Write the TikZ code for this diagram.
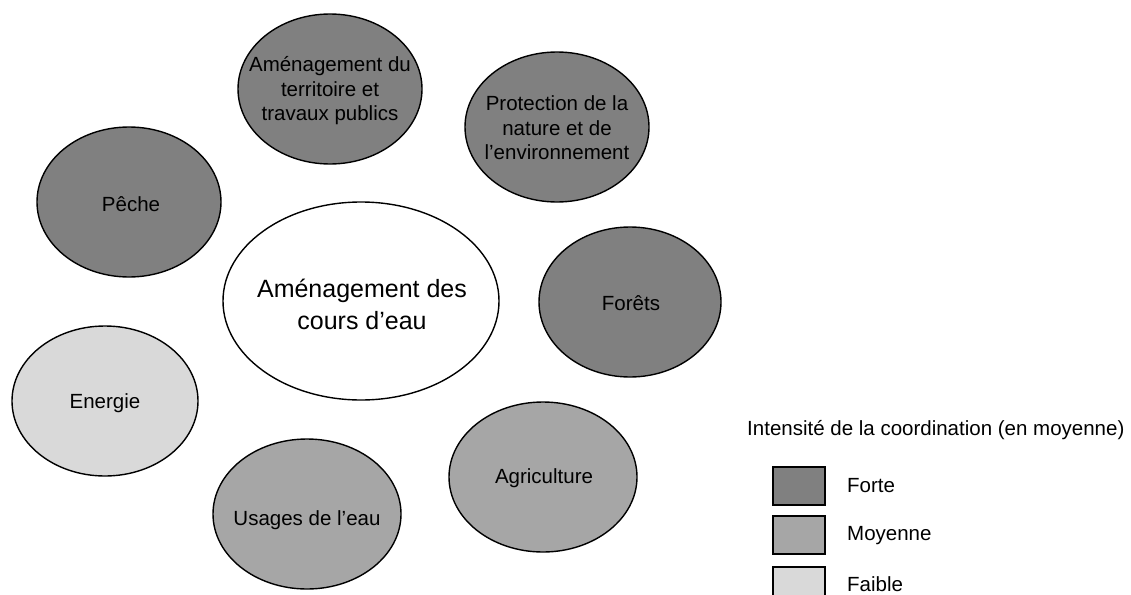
\documentclass[tikz,border=0pt]{standalone}
\usepackage{fontspec}
\setmainfont{Liberation Sans}
\definecolor{forte}{HTML}{808080}
\definecolor{moyenne}{HTML}{A6A6A6}
\definecolor{faible}{HTML}{D9D9D9}
\tikzset{
  bub/.style={draw=black, line width=1.4pt},
  lab/.style={align=center, inner sep=0pt, font=\fontsize{20.5}{24.5}\selectfont},
  biglab/.style={align=center, inner sep=0pt, font=\fontsize{25}{32}\selectfont},
  legtxt/.style={anchor=west, inner sep=0pt, font=\fontsize{20.5}{25}\selectfont},
  legbox/.style={draw=black, line width=1.2pt, minimum width=52pt, minimum height=38pt, inner sep=0pt}
}
\begin{document}
\begin{tikzpicture}[x=1pt, y=-1pt]
\useasboundingbox (0,0) rectangle (1131,594);
\clip (0,0) rectangle (1131,594);
% ellipses
\draw[bub, fill=forte]   (330,89)  ellipse [x radius=92pt, y radius=75pt];
\draw[bub, fill=forte]   (557,127) ellipse [x radius=92pt, y radius=75pt];
\draw[bub, fill=forte]   (129,202) ellipse [x radius=92pt, y radius=75pt];
\draw[bub, fill=white]   (361,301) ellipse [x radius=138pt, y radius=99pt];
\draw[bub, fill=forte]   (630,302) ellipse [x radius=91pt, y radius=75pt];
\draw[bub, fill=faible]  (105,401) ellipse [x radius=93pt, y radius=75pt];
\draw[bub, fill=moyenne] (543,477) ellipse [x radius=94pt, y radius=75pt];
\draw[bub, fill=moyenne] (307,514) ellipse [x radius=94pt, y radius=75pt];
% labels
\node[lab] (terr) at (330,91) {Aménagement du\\territoire et\\travaux publics};
\node[lab] (prot) at (557,128) {Protection de la\\nature et de\\l’environnement};
\node[lab] (peche) at (131,204) {Pêche};
\node[biglab] (centre) at (362,304) {Aménagement des\\cours d’eau};
\node[lab] (forets) at (631,303) {Forêts};
\node[lab] (energie) at (105,403) {Energie};
\node[lab] (agri) at (544,478) {Agriculture};
\node[lab] (usages) at (307,520) {Usages de l’eau};
% legend
\node[legtxt] (titre) at (747,430) {Intensité de la coordination (en moyenne)};
\node[legbox, fill=forte]   (bforte) at (799,486) {};
\node[legbox, fill=moyenne] (bmoy)   at (799,535) {};
\node[legbox, fill=faible]  (bfaible) at (799,586) {};
\node[legtxt] (tforte) at (847,486) {Forte};
\node[legtxt] (tmoy)   at (847,536) {Moyenne};
\node[legtxt] (tfaible) at (847,584) {Faible};
\end{tikzpicture}
\end{document}
